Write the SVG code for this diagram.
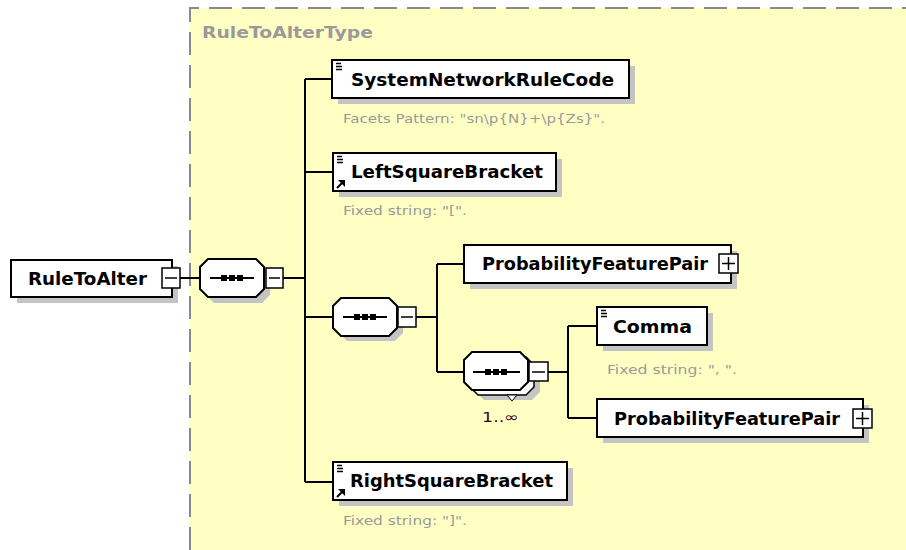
<svg xmlns="http://www.w3.org/2000/svg" width="906" height="550" viewBox="0 0 906 550">
<defs>
<style>
.bx{fill:#fff;stroke:#000;stroke-width:2}
.sh{fill:#c4c4c4}
.ln{fill:none;stroke:#000;stroke-width:2}
.nm{font-family:"DejaVu Sans",sans-serif;font-weight:bold;font-size:18px;fill:#000}
.cm{font-family:"DejaVu Sans",sans-serif;font-size:13px;fill:#9a9a9a}
.pm{fill:#fff;stroke:#000;stroke-width:1.5}
.pl{fill:none;stroke:#000;stroke-width:1.5}
.ic{fill:none;stroke:#000;stroke-width:1.3}
</style>
<g id="oct"><path d="M8,0 H56 L64,8 V30 L56,38 H8 L0,30 V8 Z"/></g>
</defs>
<rect x="0" y="0" width="906" height="550" fill="#fff"/>
<rect x="190" y="8" width="716" height="542" fill="#ffffc4"/>
<path d="M190,550 V8 H906" fill="none" stroke="#8a8a8a" stroke-width="2" stroke-dasharray="23 10"/>
<text x="202" y="38" font-family="DejaVu Sans,sans-serif" font-weight="bold" font-size="16" fill="#9a9a9a" textLength="171" lengthAdjust="spacingAndGlyphs">RuleToAlterType</text>

<g id="connectors" class="ln">
<path d="M180,278 H200"/>
<path d="M283,278 H305"/>
<path d="M305,79 V482"/>
<path d="M305,79 H332"/>
<path d="M305,172 H333"/>
<path d="M305,317 H333"/>
<path d="M305,482 H333"/>
<path d="M416,317 H437"/>
<path d="M437,264 V372"/>
<path d="M437,264 H464"/>
<path d="M437,372 H464"/>
<path d="M548,372 H568"/>
<path d="M568,326 V418"/>
<path d="M568,326 H597"/>
<path d="M568,418 H597"/>
</g>

<g id="RuleToAlter">
<rect class="sh" x="17" y="266" width="161" height="37"/>
<rect class="bx" x="11" y="260" width="161" height="37"/>
<rect class="pm" x="162" y="268" width="18" height="20"/>
<path class="pl" d="M165,278 H177"/>
<text class="nm" x="28" y="285" textLength="119" lengthAdjust="spacingAndGlyphs">RuleToAlter</text>
</g>

<g id="seq1">
<use href="#oct" x="206" y="265" fill="#c4c4c4"/>
<use href="#oct" x="200" y="259" fill="#fff" stroke="#000" stroke-width="2"/>
<path class="ln" d="M210,278 H254"/>
<rect x="221" y="275" width="6" height="6"/><rect x="229" y="275" width="6" height="6"/><rect x="237" y="275" width="6" height="6"/>
<rect class="pm" x="266" y="268" width="17" height="20"/>
<path class="pl" d="M269,278 H280"/>
</g>

<g id="SystemNetworkRuleCode">
<rect class="sh" x="338" y="66" width="297" height="38"/>
<rect class="bx" x="332" y="60" width="297" height="38"/>
<path class="ic" d="M336,63.5 H341 M336,66.5 H342 M336,69.5 H342"/>
<text class="nm" x="351" y="86" textLength="263" lengthAdjust="spacingAndGlyphs">SystemNetworkRuleCode</text>
<text class="cm" x="343" y="123" textLength="262" lengthAdjust="spacingAndGlyphs">Facets Pattern: "sn\p{N}+\p{Zs}".</text>
</g>

<g id="LeftSquareBracket">
<rect class="sh" x="339" y="159" width="223" height="38"/>
<rect class="bx" x="333" y="153" width="223" height="38"/>
<path class="ic" d="M337,156.5 H342 M337,159.5 H343 M337,162.5 H343"/>
<path d="M337,188 L342,183" stroke="#000" stroke-width="2"/><polygon points="345,180 345,187 338,180"/>
<text class="nm" x="351" y="178" textLength="192" lengthAdjust="spacingAndGlyphs">LeftSquareBracket</text>
<text class="cm" x="343" y="215" textLength="124" lengthAdjust="spacingAndGlyphs">Fixed string: "[".</text>
</g>

<g id="seq2">
<use href="#oct" x="339" y="303" fill="#c4c4c4"/>
<use href="#oct" x="333" y="298" fill="#fff" stroke="#000" stroke-width="2"/>
<path class="ln" d="M343,317 H387"/>
<rect x="354" y="314" width="6" height="6"/><rect x="362" y="314" width="6" height="6"/><rect x="370" y="314" width="6" height="6"/>
<rect class="pm" x="398" y="307" width="18" height="20"/>
<path class="pl" d="M401,317 H413"/>
</g>

<g id="ProbabilityFeaturePair1">
<rect class="sh" x="470" y="251" width="267" height="38"/>
<rect class="bx" x="464" y="245" width="267" height="38"/>
<rect class="pm" x="719" y="254" width="19" height="19"/>
<path class="pl" d="M722,263.5 H735 M728.5,257 V270"/>
<text class="nm" x="482" y="270" textLength="226" lengthAdjust="spacingAndGlyphs">ProbabilityFeaturePair</text>
</g>

<g id="seq3">
<path d="M476,366 H540 V392 L532,400 H484 L476,392 Z" fill="#c4c4c4"/>
<use href="#oct" x="470" y="357" fill="#fff" stroke="#000" stroke-width="1.5"/>
<polygon points="507,395 517,395 512,401" fill="#fff" stroke="#000" stroke-width="1"/>
<use href="#oct" x="464" y="352" fill="#fff" stroke="#000" stroke-width="2"/>
<path class="ln" d="M473,372 H520"/>
<rect x="485" y="369" width="6" height="6"/><rect x="493" y="369" width="6" height="6"/><rect x="501" y="369" width="6" height="6"/>
<rect class="pm" x="529" y="362" width="19" height="19"/>
<path class="pl" d="M532,372 H545"/>
<text x="482" y="422" font-family="DejaVu Sans,sans-serif" font-size="14" fill="#400010" textLength="37" lengthAdjust="spacingAndGlyphs">1..∞</text>
</g>

<g id="Comma">
<rect class="sh" x="603" y="313" width="110" height="38"/>
<rect class="bx" x="597" y="307" width="110" height="38"/>
<path class="ic" d="M601,310.5 H606 M601,313.5 H607 M601,316.5 H607"/>
<text class="nm" x="613" y="333" textLength="79" lengthAdjust="spacingAndGlyphs">Comma</text>
<text class="cm" x="607" y="374" textLength="130" lengthAdjust="spacingAndGlyphs">Fixed string: ", ".</text>
</g>

<g id="ProbabilityFeaturePair2">
<rect class="sh" x="603" y="405" width="266" height="38"/>
<rect class="bx" x="597" y="399" width="266" height="38"/>
<rect class="pm" x="853" y="409" width="19" height="19"/>
<path class="pl" d="M856,418.5 H869 M862.5,412 V425"/>
<text class="nm" x="614" y="425" textLength="226" lengthAdjust="spacingAndGlyphs">ProbabilityFeaturePair</text>
</g>

<g id="RightSquareBracket">
<rect class="sh" x="339" y="468" width="234" height="38"/>
<rect class="bx" x="333" y="462" width="234" height="38"/>
<path class="ic" d="M337,465.5 H342 M337,468.5 H343 M337,471.5 H343"/>
<path d="M337,497 L342,492" stroke="#000" stroke-width="2"/><polygon points="345,489 345,496 338,489"/>
<text class="nm" x="350" y="487" textLength="203" lengthAdjust="spacingAndGlyphs">RightSquareBracket</text>
<text class="cm" x="343" y="525" textLength="124" lengthAdjust="spacingAndGlyphs">Fixed string: "]".</text>
</g>
</svg>
